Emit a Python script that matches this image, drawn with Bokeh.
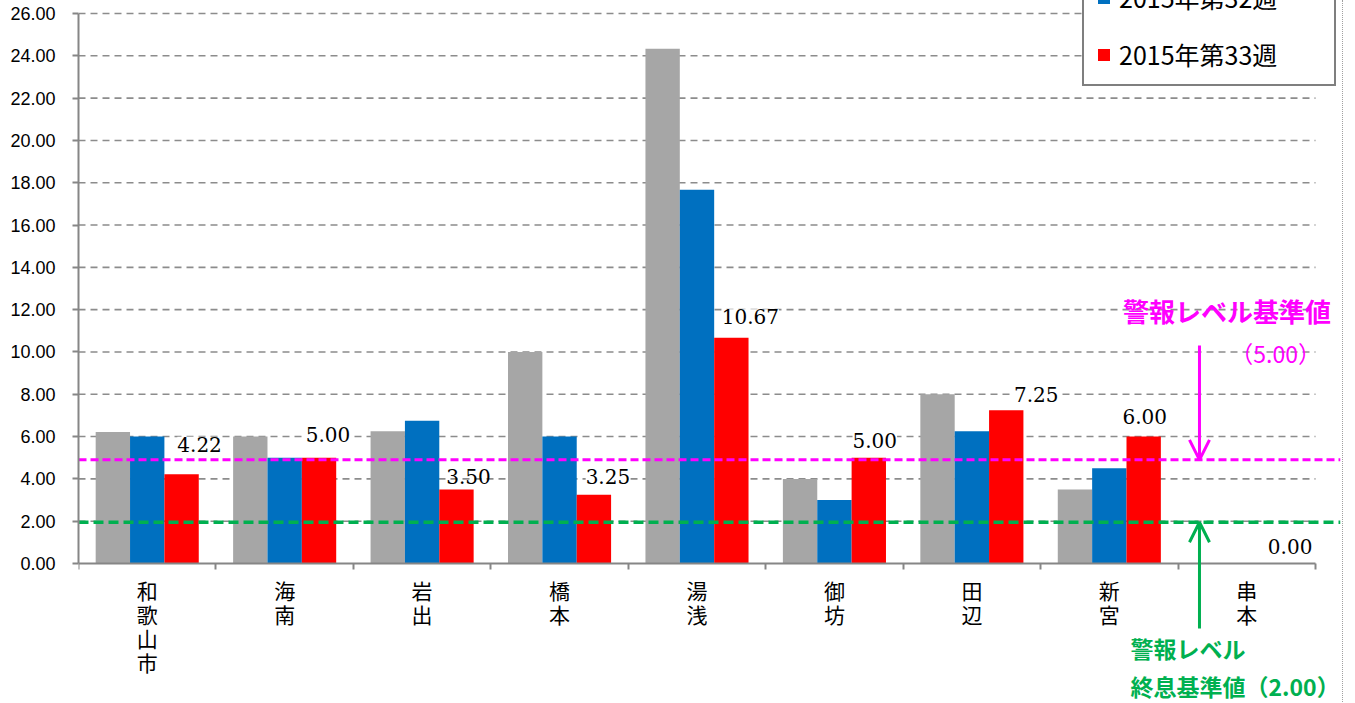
from bokeh.plotting import figure
from bokeh.models import (ColumnDataSource, LabelSet, Label, Legend, LegendItem,
                          FixedTicker, Arrow, OpenHead, Range1d, NumeralTickFormatter)
from bokeh.core.properties import value
from bokeh.embed import file_html
from bokeh.resources import INLINE

# ---------------- data ----------------
cities = ["和歌山市", "海南", "岩出", "橋本", "湯浅", "御坊", "田辺", "新宮", "串本"]
series_names = ["2015年第31週", "2015年第32週", "2015年第33週"]
week31 = [6.22, 6.00, 6.25, 10.00, 24.33, 4.00, 8.00, 3.50, 0.00]
week32 = [6.00, 5.00, 6.75, 6.00, 17.67, 3.00, 6.25, 4.50, 0.00]
week33 = [4.22, 5.00, 3.50, 3.25, 10.67, 5.00, 7.25, 6.00, 0.00]
y_ticks = [0, 2, 4, 6, 8, 10, 12, 14, 16, 18, 20, 22, 24, 26]
warning_line = 4.9      # 警報レベル基準値 (5.00) as drawn
end_line = 1.95         # 警報レベル終息基準値 (2.00) as drawn

# ---------------- styles ----------------
colors = ["#A6A6A6", "#0070C0", "#FF0000"]
bar_offsets = [-0.25, 0.0, 0.25]
bar_width = 0.25
label_dx = [18, 9, 12, 14, 19, 6, 30, 1, 9]     # pixel nudges of value labels
label_dy = [30, 23, 13, 18, 21, 17, 16, 20, 17]
label_bg = [1, 1, 0, 1, 1, 1, 1, 1, 1]
AXIS = "#868686"
GRID = "#8C8C8C"
MAGENTA = "#FF00FF"
GREEN = "#00B050"
CJK = "Noto Sans CJK JP"

n = len(cities)
centers = [i + 0.5 for i in range(n)]

p = figure(width=1343, height=702,
           x_range=Range1d(0, 9.182), y_range=Range1d(-6.477, 26.615),
           output_backend="svg", toolbar_location=None,
           min_border_left=78, min_border_right=3,
           min_border_top=0, min_border_bottom=2)
p.outline_line_color = None
p.xgrid.visible = False
p.ygrid.visible = False
p.styles = {"border-right": "1px dotted #A0A0A0"}

# gridlines (limited to the axis extent)
grid_src = ColumnDataSource(dict(y=[t for t in y_ticks if t > 0]))
p.segment(x0=0, x1=n, y0="y", y1="y", source=grid_src,
          line_color=GRID, line_width=1.6, line_dash="7 5")

# bars
renderers = []
for vals, off, col in zip([week31, week32, week33], bar_offsets, colors):
    src = ColumnDataSource(dict(x=[c + off for c in centers], top=vals))
    r = p.vbar(x="x", top="top", bottom=0, width=bar_width, source=src,
               fill_color=col, line_color=None)
    renderers.append(r)

# threshold lines
p.segment(x0=0, x1=p.x_range.end, y0=warning_line, y1=warning_line,
          line_color=MAGENTA, line_width=3, line_dash="8 4")
p.segment(x0=0, x1=p.x_range.end, y0=end_line, y1=end_line,
          line_color=GREEN, line_width=3.5, line_dash="10 5")

# value labels for latest week
lab_src = ColumnDataSource(dict(
    x=[c + bar_offsets[2] for c in centers], y=week33,
    text=["%.2f" % v for v in week33],
    dx=label_dx, dy=label_dy, bga=label_bg))
p.add_layout(LabelSet(x="x", y="y", text="text", x_offset="dx", y_offset="dy",
                      source=lab_src, text_font=value("DejaVu Serif"),
                      text_font_size="20px", text_color="black",
                      text_align="center", text_baseline="middle",
                      background_fill_color="white", background_fill_alpha="bga"))

# category labels (vertical writing) under the axis
cat_src = ColumnDataSource(dict(x=centers, y=[0] * n,
                                text=["\n".join(name) for name in cities]))
p.add_layout(LabelSet(x="x", y="y", text="text", y_offset=-12, source=cat_src,
                      text_font=value(CJK), text_font_size="21px",
                      text_line_height=0.79, text_color="black",
                      text_align="center", text_baseline="top"))

# axes
ya = p.yaxis[0]
ya.ticker = FixedTicker(ticks=y_ticks)
ya.formatter = NumeralTickFormatter(format="0.00")
ya.bounds = (0, 26)
ya.axis_line_color = AXIS
ya.axis_line_width = 2
ya.major_tick_line_color = AXIS
ya.major_tick_line_width = 2
ya.major_tick_out = 6
ya.major_tick_in = 0
ya.minor_tick_line_color = None
ya.major_label_standoff = 17
ya.major_label_text_font = "Liberation Sans"
ya.major_label_text_font_size = "18px"
ya.major_label_text_color = "black"

xa = p.xaxis[0]
xa.fixed_location = 0
xa.ticker = FixedTicker(ticks=list(range(n + 1)))
xa.major_label_overrides = {i: "" for i in range(n + 1)}
xa.major_label_text_font_size = "1px"
xa.major_label_standoff = 0
xa.bounds = (0, n)
xa.axis_line_color = AXIS
xa.axis_line_width = 2
xa.major_tick_line_color = AXIS
xa.major_tick_line_width = 2
xa.major_tick_out = 6
xa.major_tick_in = 0
xa.minor_tick_line_color = None

# legend
legend = Legend(items=[LegendItem(label=nm, renderers=[r]) for nm, r in zip(series_names, renderers)],
                location=(1004, 614), margin=0, padding=12, spacing=21,
                label_height=36, label_width=203, glyph_height=15, glyph_width=15,
                label_standoff=8, label_text_font=CJK, label_text_font_size="25px",
                label_text_color="black", border_line_color="black", border_line_width=2,
                background_fill_color="white", background_fill_alpha=1)
p.add_layout(legend)

# annotations
p.add_layout(Label(x=7.6, y=11.96, text="警報レベル基準値", text_font=CJK,
                   text_font_style="bold", text_font_size="26px", text_color=MAGENTA,
                   text_align="left", text_baseline="middle"))
p.add_layout(Label(x=8.71, y=9.93, text="（5.00）", text_font=CJK,
                   text_font_size="23px", text_color=MAGENTA,
                   text_align="center", text_baseline="middle"))
p.add_layout(Arrow(end=OpenHead(size=20, line_color=MAGENTA, line_width=3),
                   x_start=8.156, y_start=10.31, x_end=8.156, y_end=warning_line,
                   line_color=MAGENTA, line_width=3))

p.add_layout(Label(x=7.654, y=-4.0, text="警報レベル", text_font=CJK,
                   text_font_style="bold", text_font_size="23px", text_color=GREEN,
                   text_align="left", text_baseline="middle"))
p.add_layout(Label(x=7.654, y=-5.77, text="終息基準値（2.00）", text_font=CJK,
                   text_font_style="bold", text_font_size="23px", text_color=GREEN,
                   text_align="left", text_baseline="middle"))
p.add_layout(Arrow(end=OpenHead(size=20, line_color=GREEN, line_width=3),
                   x_start=8.156, y_start=-3.07, x_end=8.156, y_end=end_line,
                   line_color=GREEN, line_width=3))

open("out.html", "w").write(file_html(p, INLINE))
